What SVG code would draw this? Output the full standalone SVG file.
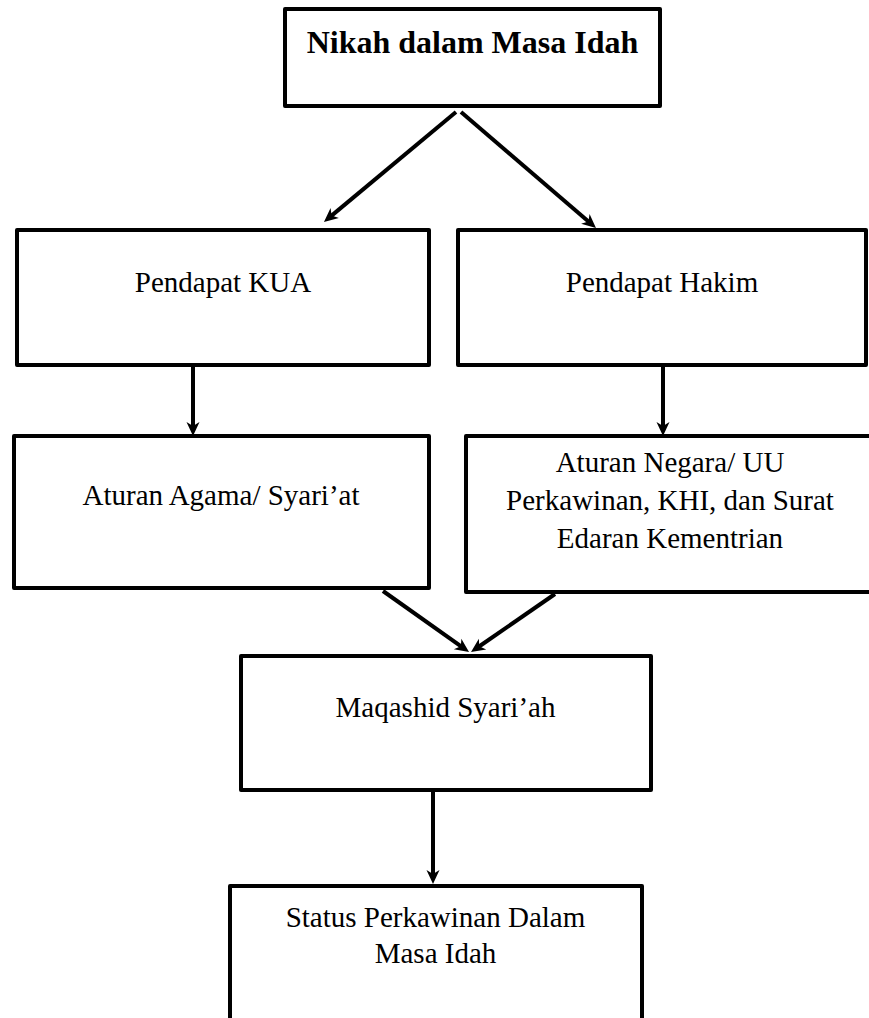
<svg xmlns="http://www.w3.org/2000/svg" width="869" height="1018" viewBox="0 0 869 1018">
<style>
.box{fill:#fff;stroke:#000;stroke-width:4;stroke-linejoin:round}
.lbl{font-family:"Liberation Serif","Times New Roman",serif;font-size:29px;fill:#000;text-anchor:middle}
.ttl{font-family:"Liberation Serif","Times New Roman",serif;font-size:32px;font-weight:bold;fill:#000;text-anchor:middle}
.con{fill:none;stroke:#000;stroke-width:4;marker-end:url(#ah)}
</style>
<defs>
<marker id="ah" viewBox="-15 -7 15 14" refX="-8" refY="0" markerWidth="15" markerHeight="14" markerUnits="userSpaceOnUse" orient="auto">
<path d="M0,0 L-14,-6.5 L-10,0 L-14,6.5 Z" fill="#000"/>
</marker>
</defs>
<rect width="869" height="1018" fill="#fff"/>
<g id="connectors">
<line class="con" x1="456" y1="112" x2="330.1" y2="216.9"/>
<line class="con" x1="461" y1="112" x2="589.9" y2="222.8"/>
<line class="con" x1="193" y1="365" x2="193" y2="428"/>
<line class="con" x1="663" y1="365" x2="663" y2="428"/>
<line class="con" x1="383" y1="591" x2="462.5" y2="647.4"/>
<line class="con" x1="555" y1="594" x2="477.6" y2="647.5"/>
<line class="con" x1="433" y1="790" x2="433" y2="876"/>
</g>
<g id="nikah">
<rect class="box" x="285" y="9" width="375" height="97"/>
<text class="ttl" x="472.5" y="53">Nikah dalam Masa Idah</text>
</g>
<g id="kua">
<rect class="box" x="17" y="230" width="412" height="135"/>
<text class="lbl" x="223" y="292">Pendapat KUA</text>
</g>
<g id="hakim">
<rect class="box" x="458" y="230" width="408" height="135"/>
<text class="lbl" x="662" y="292">Pendapat Hakim</text>
</g>
<g id="agama">
<rect class="box" x="14" y="436" width="415" height="152"/>
<text class="lbl" x="221" y="505">Aturan Agama/ Syari’at</text>
</g>
<g id="negara">
<rect class="box" x="466" y="436" width="414" height="156"/>
<text class="lbl" x="670" y="472">Aturan Negara/ UU</text>
<text class="lbl" x="670" y="510">Perkawinan, KHI, dan Surat</text>
<text class="lbl" x="670" y="548">Edaran Kementrian</text>
</g>
<g id="maqashid">
<rect class="box" x="241" y="656" width="410" height="134"/>
<text class="lbl" x="445.5" y="717">Maqashid Syari’ah</text>
</g>
<g id="status">
<rect class="box" x="230" y="886" width="412" height="150"/>
<text class="lbl" x="435.5" y="927">Status Perkawinan Dalam</text>
<text class="lbl" x="435.5" y="963">Masa Idah</text>
</g>
</svg>
